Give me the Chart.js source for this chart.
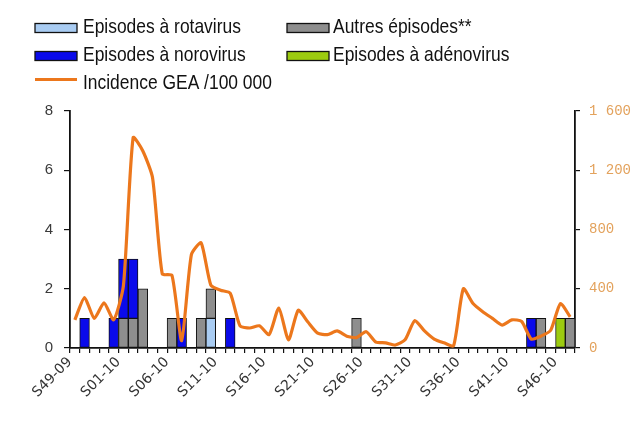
<!DOCTYPE html>
<html>
<head>
<meta charset="utf-8">
<script src="https://cdn.jsdelivr.net/npm/chart.js@4/dist/chart.umd.min.js"></script>
<style>
html,body{margin:0;padding:0;background:#fff;}
canvas{display:block;}
</style>
</head>
<body>
<canvas id="c" width="641" height="424"></canvas>
<script>
// ---- Data ----
const weeks = [
  'S49-09','S50-09','S51-09','S52-09','S53-09',
  'S01-10','S02-10','S03-10','S04-10','S05-10','S06-10','S07-10','S08-10','S09-10','S10-10',
  'S11-10','S12-10','S13-10','S14-10','S15-10','S16-10','S17-10','S18-10','S19-10','S20-10',
  'S21-10','S22-10','S23-10','S24-10','S25-10','S26-10','S27-10','S28-10','S29-10','S30-10',
  'S31-10','S32-10','S33-10','S34-10','S35-10','S36-10','S37-10','S38-10','S39-10','S40-10',
  'S41-10','S42-10','S43-10','S44-10','S45-10','S46-10','S47-10'
];
const shownLabels = ['S49-09','S01-10','S06-10','S11-10','S16-10','S21-10','S26-10','S31-10','S36-10','S41-10','S46-10'];

const rotavirus = [0,0,0,0,0, 0,0,0,0,0, 0,0,0,0,1, 0,0,0,0,0, 0,0,0,0,0, 0,0,0,0,0, 0,0,0,0,0, 0,0,0,0,0, 0,0,0,0,0, 0,0,0,0,0, 0,0];
const autres    = [0,0,0,0,0, 1,1,2,0,0, 1,0,0,1,1, 0,0,0,0,0, 0,0,0,0,0, 0,0,0,0,1, 0,0,0,0,0, 0,0,0,0,0, 0,0,0,0,0, 0,0,0,1,0, 0,1];
const norovirus = [0,1,0,0,1, 2,2,0,0,0, 0,1,0,0,0, 0,1,0,0,0, 0,0,0,0,0, 0,0,0,0,0, 0,0,0,0,0, 0,0,0,0,0, 0,0,0,0,0, 0,0,1,0,0, 0,0];
const adenovirus= [0,0,0,0,0, 0,0,0,0,0, 0,0,0,0,0, 0,0,0,0,0, 0,0,0,0,0, 0,0,0,0,0, 0,0,0,0,0, 0,0,0,0,0, 0,0,0,0,0, 0,0,0,0,0, 1,0];
const incidence = [190,340,200,305,190, 420,1420,1330,1150,500, 490,50,630,710,425,
  390,370,150,135,150, 90,270,55,255,175, 100,90,115,80,70, 110,40,35,20,55,
  185,115,60,35,15, 400,300,245,200,155, 190,180,60,80,120, 300,210];

const leftTicks = [0,2,4,6,8];
const rightTicks = [0,400,800,1200,1600];

const seriesNames = ['Episodes à rotavirus','Autres épisodes**','Episodes à norovirus','Episodes à adénovirus','Incidence GEA /100 000'];
const colors = ['#A9CCF2','#8E8E8E','#0A0AEA','#9CCB10','#EC771C'];

const nz = a => a.map(v => v === 0 ? null : v);

function fmtRight(v){
  if (v >= 1000) return Math.floor(v/1000) + ' ' + String(v%1000).padStart(3,'0');
  return String(v);
}

// ---- custom legend ----
const legendPlugin = {
  id: 'customLegend',
  afterDraw(chart){
    const ctx = chart.ctx;
    const items = [
      {ds:0, bx:35, tx:83, boxY:23.5, base:33},
      {ds:1, bx:287, tx:333, boxY:23.5, base:33},
      {ds:2, bx:35, tx:83, boxY:51.5, base:61},
      {ds:3, bx:287, tx:333, boxY:51.5, base:61},
      {ds:4, bx:35, tx:83, boxY:79.5, base:89, line:true}
    ];
    ctx.save();
    items.forEach(it => {
      const ds = chart.data.datasets[it.ds];
      if (it.line){
        ctx.strokeStyle = ds.borderColor;
        ctx.lineWidth = 3;
        ctx.beginPath();
        ctx.moveTo(it.bx, it.boxY);
        ctx.lineTo(it.bx + 42, it.boxY);
        ctx.stroke();
      } else {
        ctx.fillStyle = ds.backgroundColor;
        ctx.fillRect(it.bx, it.boxY, 42, 9);
        ctx.strokeStyle = '#111';
        ctx.lineWidth = 1.3;
        ctx.strokeRect(it.bx, it.boxY, 42, 9);
      }
      ctx.save();
      ctx.translate(it.tx, it.base);
      ctx.scale(0.83, 1);
      ctx.font = '21px "Liberation Sans", Arial, sans-serif';
      ctx.fillStyle = '#111';
      ctx.textAlign = 'left';
      ctx.textBaseline = 'alphabetic';
      ctx.fillText(ds.label, 0, 0);
      ctx.restore();
    });
    ctx.restore();
  }
};

const barDs = (i, data) => ({
  type: 'bar',
  label: seriesNames[i],
  data: nz(data),
  backgroundColor: colors[i],
  borderColor: '#111',
  borderWidth: 1,
  borderSkipped: false,
  barPercentage: 1,
  categoryPercentage: 1,
  yAxisID: 'y',
  stack: 's',
  order: 1
});

new Chart(document.getElementById('c'), {
  data: {
    labels: weeks,
    datasets: [
      barDs(0, rotavirus),
      barDs(1, autres),
      barDs(2, norovirus),
      barDs(3, adenovirus),
      {
        type: 'line',
        label: seriesNames[4],
        data: incidence,
        borderColor: colors[4],
        backgroundColor: colors[4],
        borderWidth: 3.2,
        pointRadius: 0,
        tension: 0.2,
        yAxisID: 'y1',
        order: 0
      }
    ]
  },
  options: {
    responsive: false,
    animation: false,
    devicePixelRatio: 1,
    layout: { padding: { top: 111, left: 0, right: 0, bottom: 0 } },
    plugins: { legend: { display: false }, tooltip: { enabled: false } },
    scales: {
      x: {
        stacked: true,
        offset: true,
        grid: { offset: true, drawOnChartArea: false, drawTicks: true, tickLength: 5, color: '#111', lineWidth: 1.2 },
        border: { display: true, color: '#111', width: 1.8 },
        ticks: {
          autoSkip: false, maxRotation: 45, minRotation: 45, padding: 1, labelOffset: -5,
          color: '#333',
          font: { family: '"DejaVu Sans", sans-serif', size: 14 },
          callback: (v, i) => shownLabels.includes(weeks[i]) ? weeks[i] : ''
        },
        afterFit: s => { s.height = 424 - 348; }
      },
      y: {
        position: 'left',
        stacked: true,
        min: 0, max: 8,
        afterBuildTicks: s => { s.ticks = leftTicks.map(v => ({value: v})); },
        grid: { drawOnChartArea: false, drawTicks: true, tickLength: 6, color: '#111', lineWidth: 1.2 },
        border: { display: true, color: '#111', width: 1.8 },
        ticks: { padding: 11, color: '#3a3a3a', font: { family: '"Liberation Sans", Arial, sans-serif', size: 15 } },
        afterFit: s => { s.width = 70; }
      },
      y1: {
        position: 'right',
        min: 0, max: 1600,
        afterBuildTicks: s => { s.ticks = rightTicks.map(v => ({value: v})); },
        grid: { drawOnChartArea: false, drawTicks: true, tickLength: 5, color: '#111', lineWidth: 1.2 },
        border: { display: true, color: '#111', width: 1.8 },
        ticks: { padding: 9, color: '#E3A25C', font: { family: '"Liberation Mono", monospace', size: 14 }, callback: v => fmtRight(v) },
        afterFit: s => { s.width = 641 - 575; }
      }
    }
  },
  plugins: [legendPlugin]
});
</script>
</body>
</html>
